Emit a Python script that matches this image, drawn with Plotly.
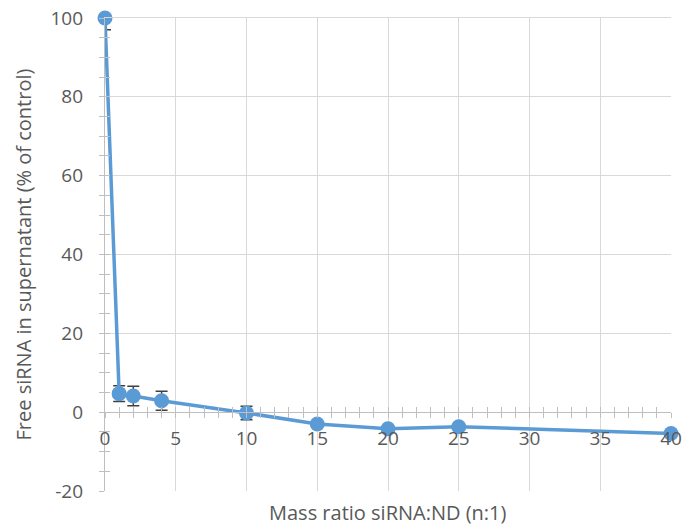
import plotly.graph_objects as go

ratio = [0, 1, 2, 4, 10, 15, 20, 25, 40]
free_sirna = [100, 4.7, 4.1, 2.9, -0.2, -3.0, -4.2, -3.7, -5.4]
err = [3.0, 2.0, 2.5, 2.4, 1.7, 0, 0, 0, 0]

x_ticks = [0, 5, 10, 15, 20, 25, 30, 35, 40]
y_ticks = [-20, 0, 20, 40, 60, 80, 100]
y_tick_labels = ["-20", "0", "20", "40", "60", "80", "100"]

blue = "#5b9bd5"
grid = "#d9d9d9"
axcol = "#bfbfbf"
txt = "#595959"
FONT = "Open Sans"
FS = 19
TFS = 20

fig = go.Figure()
fig.add_trace(go.Scatter(
    x=ratio, y=free_sirna, mode="lines+markers",
    line=dict(color=blue, width=3.5),
    marker=dict(color=blue, size=15),
    error_y=dict(type="data", array=err, visible=True, color="#404040", thickness=1.5, width=6),
    cliponaxis=False, showlegend=False,
))
# overlay axes for cross-style minor ticks and the top border gridline
fig.add_trace(go.Scatter(x=[None], y=[None], xaxis="x2", yaxis="y2", showlegend=False))
fig.add_trace(go.Scatter(x=[None], y=[None], xaxis="x3", yaxis="y", showlegend=False))

YMAX = 100
ypos = (0 - (-20)) / (YMAX - (-20))
fig.update_layout(
    width=683, height=527,
    margin=dict(l=105, r=12, t=18, b=36),
    paper_bgcolor="white", plot_bgcolor="white",
    font=dict(family=FONT, size=FS, color=txt),
    xaxis=dict(range=[0, 40], tickvals=x_ticks, showgrid=True, gridcolor=grid, gridwidth=1.3,
               zeroline=False, showline=True, linecolor=axcol, linewidth=1.3, automargin=False,
               anchor="free", position=ypos, ticks="outside", ticklen=5, tickcolor=axcol,
               ticklabelstandoff=4, ticklabeloverflow="allow",
               minor=dict(dtick=1, ticks="outside", ticklen=5, tickcolor=axcol, showgrid=False),
               tickfont=dict(size=FS, color=txt)),
    xaxis2=dict(range=[0, 40], overlaying="x", anchor="free", position=ypos, tickvals=x_ticks,
                showticklabels=False, showgrid=False, zeroline=False, showline=False, automargin=False,
                ticks="inside", ticklen=5, tickcolor=axcol,
                minor=dict(dtick=1, ticks="inside", ticklen=5, tickcolor=axcol, showgrid=False)),
    xaxis3=dict(range=[0, 40], overlaying="x", anchor="y", side="top", showticklabels=False,
                showgrid=False, zeroline=False, showline=True, linecolor=grid, linewidth=1.3,
                ticks="", automargin=False),
    yaxis=dict(range=[-20, YMAX], tickvals=y_ticks, ticktext=y_tick_labels,
               showgrid=True, gridcolor=grid, gridwidth=1.3,
               zeroline=False, showline=True, linecolor=axcol, linewidth=1.3, automargin=False,
               ticks="outside", ticklen=5, tickcolor=axcol, ticklabelstandoff=12,
               ticklabeloverflow="allow",
               minor=dict(dtick=5, ticks="outside", ticklen=5, tickcolor=axcol, showgrid=False),
               tickfont=dict(size=FS, color=txt)),
    yaxis2=dict(range=[-20, YMAX], overlaying="y", anchor="x", tickvals=y_ticks, automargin=False,
                showticklabels=False, showgrid=False, zeroline=False, showline=False,
                ticks="inside", ticklen=5, tickcolor=axcol,
                minor=dict(dtick=5, ticks="inside", ticklen=5, tickcolor=axcol, showgrid=False)),
    annotations=[
        dict(text="Mass ratio siRNA:ND (n:1)", xref="paper", yref="paper", x=0.5, y=0,
             yshift=-21, yanchor="middle", showarrow=False, font=dict(size=TFS, color=txt)),
        dict(text="Free siRNA in supernatant (% of control)", xref="paper", yref="paper", x=0, y=0.5,
             xshift=-82, xanchor="center", yanchor="middle", textangle=-90, showarrow=False,
             font=dict(size=TFS, color=txt)),
    ],
)
fig.write_html("out.html", config={"displayModeBar": False},
               post_script="document.body.style.margin='0';document.body.style.overflow='hidden';")
